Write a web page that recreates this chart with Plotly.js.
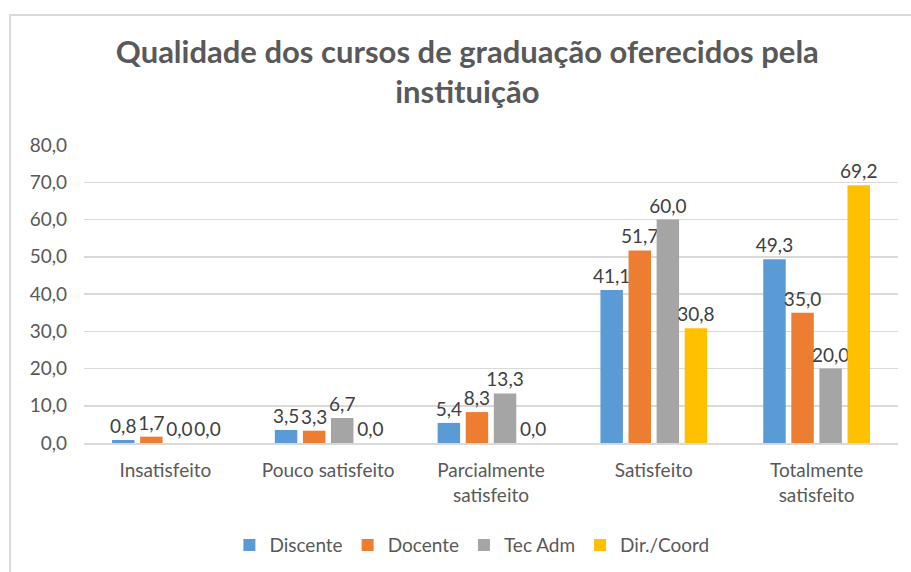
<!DOCTYPE html>
<html>
<head>
<meta charset="utf-8">
<script src="https://cdn.plot.ly/plotly-3.0.1.min.js"></script>
<style>
html,body{margin:0;padding:0;background:#fff;}
#chart{width:911px;height:572px;}
#frame{position:absolute;left:9px;top:14px;width:920px;height:600px;border-left:2px solid #D9D9D9;border-top:2px solid #D9D9D9;pointer-events:none;}
</style>
</head>
<body>
<div id="chart"></div>
<div id="frame"></div>
<script>
const categories = ["Insatisfeito", "Pouco satisfeito", "Parcialmente<br>satisfeito", "Satisfeito", "Totalmente<br>satisfeito"];
const seriesNames = ["Discente", "Docente", "Tec Adm", "Dir./Coord"];
const discente = [0.8, 3.5, 5.4, 41.1, 49.3];
const docente = [1.7, 3.3, 8.3, 51.7, 35.0];
const tecAdm = [0.0, 6.7, 13.3, 60.0, 20.0];
const dirCoord = [0.0, 0.0, 0.0, 30.8, 69.2];
const yTicks = [0, 10, 20, 30, 40, 50, 60, 70, 80];
const colors = ["#5B9BD5", "#ED7D31", "#A5A5A5", "#FFC000"];

const FONT = "Lato, 'Open Sans', sans-serif";
const values = [discente, docente, tecAdm, dirCoord];
const traces = values.map((v, i) => ({
  type: "bar",
  name: seriesNames[i],
  x: categories,
  y: v,
  marker: {color: colors[i]},
  texttemplate: "%{y:.1f}",
  textposition: "outside",
  constraintext: "none",
  cliponaxis: false,
  textfont: {family: FONT, size: 19, color: "#404040"},
  hoverinfo: "skip"
}));

const layout = {
  width: 911, height: 572,
  margin: {l: 84, r: 13, t: 145, b: 129},
  paper_bgcolor: "#fff", plot_bgcolor: "#fff",
  separators: ",.",
  font: {family: FONT, color: "#595959", size: 19},
  title: {
    text: "Qualidade dos cursos de graduação oferecidos pela<br>instituição",
    font: {family: FONT, size: 31, color: "#595959", weight: "bold"},
    x: 0.513, xanchor: "center", xref: "container",
    y: 0.89, yanchor: "middle", yref: "container"
  },
  barmode: "group",
  bargap: 0.31,
  bargroupgap: 0.2,
  xaxis: {
    showgrid: false, showline: true, linecolor: "#D9D9D9", linewidth: 1.5,
    ticks: "", tickfont: {size: 19, color: "#595959"}, ticklabelstandoff: 10, fixedrange: true
  },
  yaxis: {
    range: [0, 80], tickvals: yTicks, tickformat: ".1f",
    showgrid: true, gridcolor: "#D9D9D9", gridwidth: 1.5,
    zeroline: false, showline: false, ticks: "",
    tickfont: {size: 19, color: "#595959"}, ticklabelstandoff: 16, fixedrange: true
  },
  legend: {
    orientation: "h", xref: "container", x: 0.518, xanchor: "center",
    yref: "container", y: 0.047, yanchor: "middle",
    font: {size: 19, color: "#595959"}, itemwidth: 30, tracegroupgap: 0,
    traceorder: "normal"
  },
  showlegend: true
};

Plotly.newPlot("chart", traces, layout, {displayModeBar: false, staticPlot: true});
</script>
</body>
</html>
